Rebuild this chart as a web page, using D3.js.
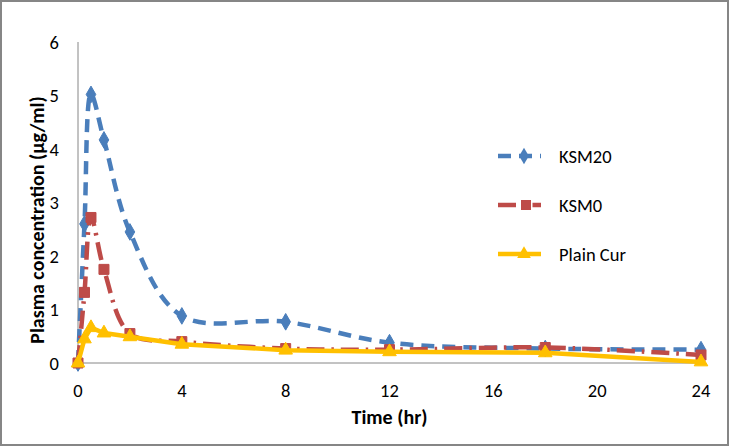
<!DOCTYPE html>
<html>
<head>
<meta charset="utf-8">
<script src="https://cdn.jsdelivr.net/npm/d3@7"></script>
<style>
  body { margin: 0; background: #fff; }
  text { font-family: Carlito, Calibri, Lato, "Open Sans", sans-serif; fill: #000; }
</style>
</head>
<body>
<script>
// sampling times (hr)
const times = [0, 0.25, 0.5, 1, 2, 4, 8, 12, 18, 24];
// plasma concentration (µg/ml)
const ksm20 = [0, 2.6, 5.02, 4.17, 2.45, 0.88, 0.77, 0.38, 0.27, 0.25];
const ksm0 = [0, 1.32, 2.72, 1.75, 0.55, 0.4, 0.27, 0.25, 0.29, 0.15];
const plainCur = [0, 0.45, 0.66, 0.56, 0.49, 0.35, 0.24, 0.21, 0.19, 0.02];
const xTicks = [0, 4, 8, 12, 16, 20, 24];
const yTicks = [0, 1, 2, 3, 4, 5, 6];

const series = [
  { name: "KSM20", values: ksm20, color: "#4A7EBB", dash: "13,8", shape: d3.symbolDiamond, size: 80, curve: d3.curveCatmullRom },
  { name: "KSM0", values: ksm0, color: "#BE4B48", dash: "18,7,2.5,7", shape: d3.symbolSquare, size: 100, curve: d3.curveCatmullRom },
  { name: "Plain Cur", values: plainCur, color: "#FFC000", dash: null, shape: d3.symbolTriangle, size: 80, curve: d3.curveLinear }
];

const W = 730, H = 447;
const svg = d3.select("body").append("svg")
  .attr("width", W).attr("height", H);

// chart border
svg.append("rect")
  .attr("x", 1).attr("y", 1)
  .attr("width", W - 3).attr("height", H - 3)
  .attr("fill", "#fff").attr("stroke", "#868686").attr("stroke-width", 2);

const x = d3.scaleLinear().domain([0, 24]).range([78, 701]);
const y = d3.scaleLinear().domain([0, 6]).range([363, 42]);

// axes lines
svg.append("line")
  .attr("x1", x(0)).attr("x2", x(24)).attr("y1", y(0)).attr("y2", y(0))
  .attr("stroke", "#868686").attr("stroke-width", 1);
svg.append("line")
  .attr("x1", x(0)).attr("x2", x(0)).attr("y1", y(0)).attr("y2", y(6))
  .attr("stroke", "#868686").attr("stroke-width", 1);

// tick labels
svg.selectAll("text.xt").data(xTicks).enter().append("text")
  .attr("class", "xt")
  .attr("x", d => x(d)).attr("y", 397)
  .attr("text-anchor", "middle")
  .attr("font-size", 18.5)
  .text(d => d);

svg.selectAll("text.yt").data(yTicks).enter().append("text")
  .attr("class", "yt")
  .attr("x", 59).attr("y", d => y(d) + 6.5)
  .attr("text-anchor", "end")
  .attr("font-size", 18.5)
  .text(d => d);

// axis titles
svg.append("text")
  .attr("x", (x(0) + x(24)) / 2).attr("y", 424)
  .attr("text-anchor", "middle")
  .attr("font-size", 20).attr("font-weight", "bold")
  .text("Time (hr)");

svg.append("text")
  .attr("transform", "translate(44,220) rotate(-90)")
  .attr("text-anchor", "middle")
  .attr("font-size", 20).attr("font-weight", "bold")
  .text("Plasma concentration (µg/ml)");

// series
series.forEach(s => {
  const pts = times.map((t, i) => [t, s.values[i]]);
  const line = d3.line()
    .x(d => x(d[0])).y(d => y(d[1]))
    .curve(s.curve);
  svg.append("path")
    .datum(pts)
    .attr("d", line)
    .attr("fill", "none")
    .attr("stroke", s.color)
    .attr("stroke-width", 4.5)
    .attr("stroke-dasharray", s.dash)
    .attr("stroke-linejoin", "round");
  svg.append("g").selectAll("path").data(pts).enter().append("path")
    .attr("d", d3.symbol().type(s.shape).size(s.size))
    .attr("transform", d => `translate(${x(d[0])},${y(d[1])})`)
    .attr("fill", s.color)
    .attr("stroke", s.color);
});

// legend
const legend = svg.append("g");
series.forEach((s, i) => {
  const ly = 156 + i * 49;
  legend.append("line")
    .attr("x1", 498).attr("x2", 541).attr("y1", ly).attr("y2", ly)
    .attr("stroke", s.color).attr("stroke-width", 4.5)
    .attr("stroke-dasharray", s.dash);
  legend.append("path")
    .attr("d", d3.symbol().type(s.shape).size(s.size))
    .attr("transform", `translate(${s.name === "KSM0" ? 526 : 524},${ly})`)
    .attr("fill", s.color);
  legend.append("text")
    .attr("x", 559).attr("y", ly + 6.5)
    .attr("font-size", 18.5)
    .text(s.name);
});
</script>
</body>
</html>
